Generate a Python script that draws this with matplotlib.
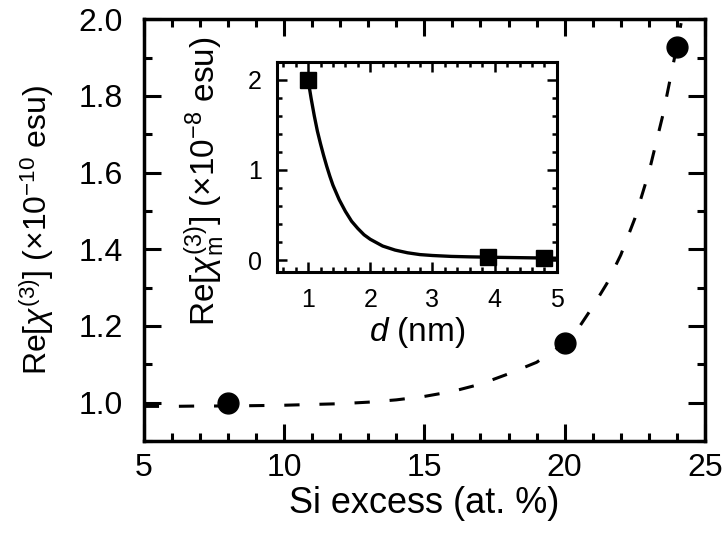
import matplotlib
matplotlib.use("Agg")
import matplotlib.pyplot as plt
from matplotlib.ticker import MultipleLocator

plt.rcParams['font.family'] = ['Liberation Sans', 'DejaVu Sans']
plt.rcParams['mathtext.fontset'] = 'custom'
plt.rcParams['mathtext.rm'] = 'Liberation Sans'
plt.rcParams['mathtext.it'] = 'Liberation Sans:italic'

# measured chi(3) vs Si excess
si_excess = [8, 20, 24]
chi3 = [1.0, 1.155, 1.928]

# guide curve through the data (dashed)
guide_x = [5, 6, 7, 8, 9, 10, 11, 12, 13, 14, 15, 16, 17, 18, 19, 20,
           20.5, 21, 21.5, 22, 22.5, 23, 23.5, 24, 24.15]
guide_y = [0.990, 0.990, 0.991, 0.991, 0.992, 0.993, 0.995, 0.997, 1.001,
           1.007, 1.016, 1.029, 1.048, 1.075, 1.105, 1.155, 1.195, 1.250,
           1.310, 1.385, 1.480, 1.600, 1.750, 1.930, 1.990]

# inset: chi_m(3) vs nanocrystal size
d_nm = [1.0, 3.9, 4.8]
chi3_m = [2.0, 0.03, 0.02]

fit_d = [1.0, 1.05, 1.1, 1.15, 1.2, 1.25, 1.3, 1.35, 1.4, 1.5, 1.6, 1.7, 1.8,
         1.9, 2.0, 2.2, 2.4, 2.6, 2.8, 3.0, 3.3, 3.6, 4.0, 4.5, 5.0]
fit_v = [2.00, 1.79, 1.60, 1.43, 1.29, 1.16, 1.04, 0.93, 0.83, 0.67, 0.54,
         0.43, 0.35, 0.28, 0.23, 0.155, 0.11, 0.08, 0.06, 0.05, 0.04,
         0.035, 0.03, 0.025, 0.02]

fig = plt.figure(figsize=(7.26, 5.37), dpi=100)
ax = fig.add_axes([0.198, 0.179, 0.773, 0.785])

ax.plot(guide_x, guide_y, color='black', lw=2.2, dashes=(5, 6.5))
ax.plot(si_excess, chi3, 'o', color='black', ms=15)

ax.set_xlim(5, 25)
ax.set_ylim(0.9, 2.0)
ax.xaxis.set_major_locator(MultipleLocator(5))
ax.xaxis.set_minor_locator(MultipleLocator(1))
ax.yaxis.set_major_locator(MultipleLocator(0.2))
ax.yaxis.set_minor_locator(MultipleLocator(0.1))
ax.yaxis.set_major_formatter(plt.FormatStrFormatter('%.1f'))
ax.tick_params(which='both', direction='in', top=True, right=True,
               labelsize=23, width=2.2)
ax.tick_params(which='major', length=12.5)
ax.tick_params(which='minor', length=6)
ax.tick_params(axis='x', which='major', pad=9)
ax.tick_params(axis='y', which='major', pad=15)
for s in ax.spines.values():
    s.set_linewidth(2.5)
ax.set_xlabel('Si excess (at. %)', fontsize=26, labelpad=2)
ax.set_ylabel(r'Re[$\chi^{(3)}$] ($\times$10$^{-10}$ esu)', fontsize=23)
ax.yaxis.set_label_coords(-0.157, 0.5)

# inset
ins = fig.add_axes([0.3815, 0.494, 0.3855, 0.391])
ins.plot(fit_d, fit_v, color='black', lw=2.4)
ins.plot(d_nm, chi3_m, 's', color='black', ms=12)
ins.set_xlim(0.5, 5.0)
ins.set_ylim(-0.13, 2.2)
ins.xaxis.set_major_locator(MultipleLocator(1))
ins.xaxis.set_minor_locator(MultipleLocator(0.2))
ins.yaxis.set_major_locator(MultipleLocator(1))
ins.yaxis.set_minor_locator(MultipleLocator(0.2))
ins.tick_params(which='both', direction='in', top=True, right=True,
                labelsize=18, width=1.8)
ins.tick_params(which='major', length=7)
ins.tick_params(which='minor', length=3.5)
ins.tick_params(axis='x', which='major', pad=12)
ins.tick_params(axis='y', which='major', pad=11)
for s in ins.spines.values():
    s.set_linewidth(2.2)
ins.set_xlabel(r'$d$ (nm)', fontsize=24, labelpad=2)
ins.set_ylabel(r'Re[$\chi_{\rm m}^{(3)}$] ($\times$10$^{-8}$ esu)', fontsize=24)
ins.yaxis.set_label_coords(-0.18, 0.43)

fig.savefig('out.png', dpi=100)
